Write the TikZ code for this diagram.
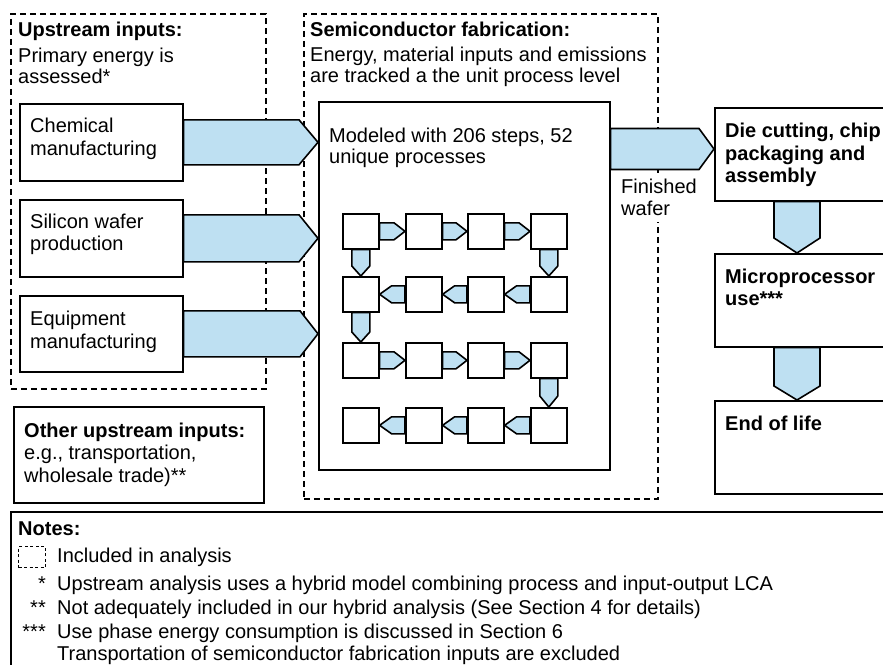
\documentclass[tikz,border=0pt]{standalone}
\usepackage{fontspec}
\setmainfont{Liberation Sans}
\usetikzlibrary{calc}
\definecolor{lblue}{RGB}{190,224,242}
\tikzset{
  box/.style={draw, line width=1.6pt, rectangle, inner sep=0pt, anchor=north west},
  dbox/.style={draw, line width=1.5pt, dash pattern=on 6pt off 4pt, rectangle, inner sep=0pt, anchor=north west},
  blk/.style={draw, fill=lblue, line width=1.6pt, line join=miter},
  txt/.style={font=\fontsize{20}{22}\selectfont, inner sep=0pt, anchor=base west},
  txtb/.style={txt, font=\fontsize{20}{22}\selectfont\bfseries},
  ast/.style={txt, anchor=base east},
}
% right-pointing block arrow: start, tip, half height, head length
\newcommand\myRarr[4]{\draw[blk] ($(#1)+(0,-#3)$) -- ($(#2)+(-#4,-#3)$) -- (#2) -- ($(#2)+(-#4,#3)$) -- ($(#1)+(0,#3)$) -- cycle;}
\newcommand\myLarr[4]{\draw[blk] ($(#1)+(0,-#3)$) -- ($(#2)+(#4,-#3)$) -- (#2) -- ($(#2)+(#4,#3)$) -- ($(#1)+(0,#3)$) -- cycle;}
\newcommand\myDarr[4]{\draw[blk] ($(#1)+(-#3,0)$) -- ($(#2)+(-#3,-#4)$) -- (#2) -- ($(#2)+(#3,-#4)$) -- ($(#1)+(#3,0)$) -- cycle;}
\begin{document}
\begin{tikzpicture}[x=1pt,y=-1pt]
\useasboundingbox (0,0) rectangle (883,664);
\clip (0,0) rectangle (883,664);
\fill[white] (0,0) rectangle (883,664);

% dashed containers
\node[dbox, minimum width=255, minimum height=375] (up) at (10,13) {};
\node[dbox, minimum width=354, minimum height=485] (semi) at (303,13) {};

% upstream text
\node[txtb] (upT) at (18,36) {Upstream inputs:};
\node[txt] (upL1) at (18,62) {Primary energy is};
\node[txt] (upL2) at (18,83) {assessed*};

% semiconductor text
\node[txtb] (seT) at (310,36) {Semiconductor fabrication:};
\node[txt] (seL1) at (310,61) {Energy, material inputs and emissions};
\node[txt] (seL2) at (310,82) {are tracked a the unit process level};

% input boxes
\node[box, minimum width=163, minimum height=77] (chem) at (19,103) {};
\node[box, minimum width=163, minimum height=77] (sil) at (19,199) {};
\node[box, minimum width=163, minimum height=76] (equ) at (19,295) {};
\node[txt] (chem1) at (30,132) {Chemical};
\node[txt] (chem2) at (30,155) {manufacturing};
\node[txt] (sil1) at (30,228) {Silicon wafer};
\node[txt] (sil2) at (30,250) {production};
\node[txt] (equ1) at (30,325) {Equipment};
\node[txt] (equ2) at (30,348) {manufacturing};

% inner process box
\node[box, minimum width=291, minimum height=368] (inner) at (318,101) {};
\node[txt] (mod1) at (329,142) {Modeled with 206 steps, 52};
\node[txt] (mod2) at (329,163) {unique processes};

% input arrows
\coordinate (t1) at (chem.east -| inner.west);
\coordinate (t2) at (sil.east -| inner.west);
\coordinate (t3) at (equ.east -| inner.west);
\myRarr{chem.east}{t1}{22.5}{19}
\myRarr{sil.east}{t2}{23.5}{19}
\myRarr{equ.east}{t3}{23}{18}

% small process grid
\foreach \c/\x in {1/342,2/405,3/467,4/530}
  \foreach \r/\y in {1/213,2/276,3/342,4/407}
    \node[box, minimum width=36, minimum height=35] (s\r\c) at (\x,\y) {};
\myRarr{s11.east}{s12.west}{8.5}{11}
\myRarr{s12.east}{s13.west}{8.5}{11}
\myRarr{s13.east}{s14.west}{8.5}{11}
\myDarr{s11.south}{s21.north}{9}{10}
\myDarr{s14.south}{s24.north}{9}{10}
\myLarr{s24.west}{s23.east}{8.5}{12}
\myLarr{s23.west}{s22.east}{8.5}{12}
\myLarr{s22.west}{s21.east}{8.5}{12}
\myDarr{s21.south}{s31.north}{9}{10}
\myRarr{s31.east}{s32.west}{8.5}{11}
\myRarr{s32.east}{s33.west}{8.5}{11}
\myRarr{s33.east}{s34.west}{8.5}{11}
\myDarr{s34.south}{s44.north}{9}{11}
\myLarr{s44.west}{s43.east}{8.5}{12}
\myLarr{s43.west}{s42.east}{8.5}{12}
\myLarr{s42.west}{s41.east}{8.5}{12}

% right column boxes
\node[box, minimum width=190, minimum height=93] (die) at (714,107) {};
\node[box, minimum width=190, minimum height=93] (mic) at (714,253) {};
\node[box, minimum width=190, minimum height=93] (eol) at (714,400) {};
\node[txtb] (die1) at (725,137) {Die cutting, chip};
\node[txtb] (die2) at (725,160) {packaging and};
\node[txtb] (die3) at (725,182) {assembly};
\node[txtb] (mic1) at (725,283) {Microprocessor};
\node[txtb] (mic2) at (725,305) {use***};
\node[txtb] (eol1) at (725,430) {End of life};

% finished wafer arrow
\coordinate (fwS) at ($(inner.north east)+(0,48)$);
\coordinate (fwT) at (fwS -| die.west);
\myRarr{fwS}{fwT}{20.5}{15}
\fill[white] (619,175) rectangle (690,222);
\node[txt] (fw1) at (621,193) {Finished};
\node[txt] (fw2) at (621,215) {wafer};

% right down arrows
\coordinate (a1s) at ($(die.south west)+(83,0)$);
\coordinate (a1t) at (a1s |- mic.north);
\coordinate (a2s) at ($(mic.south west)+(83,0)$);
\coordinate (a2t) at (a2s |- eol.north);
\myDarr{a1s}{a1t}{23}{15}
\myDarr{a2s}{a2t}{23}{14}

% other upstream inputs
\node[box, minimum width=250, minimum height=96] (oth) at (13,406) {};
\node[txtb] (oth1) at (24,437) {Other upstream inputs:};
\node[txt] (oth2) at (24,459) {e.g., transportation,};
\node[txt] (oth3) at (24,482) {wholesale trade)**};

% notes
\node[box, minimum width=900, minimum height=200] (notes) at (10,511) {};
\node[txtb] (n0) at (18,535) {Notes:};
\node[draw, line width=1pt, dash pattern=on 3pt off 2.5pt, rectangle, inner sep=0pt, anchor=north west, minimum width=27, minimum height=21] (nicon) at (18,546) {};
\node[txt] (n1) at (57,562) {Included in analysis};
\node[ast] (a1) at (46,590) {*};
\node[txt] (n2) at (57,590) {Upstream analysis uses a hybrid model combining process and input-output LCA};
\node[ast] (a2) at (46,614) {**};
\node[txt] (n3) at (57,614) {Not adequately included in our hybrid analysis (See Section 4 for details)};
\node[ast] (a3) at (46,638) {***};
\node[txt] (n4) at (57,638) {Use phase energy consumption is discussed in Section 6};
\node[txt] (n5) at (57,660) {Transportation of semiconductor fabrication inputs are excluded};
\end{tikzpicture}
\end{document}
